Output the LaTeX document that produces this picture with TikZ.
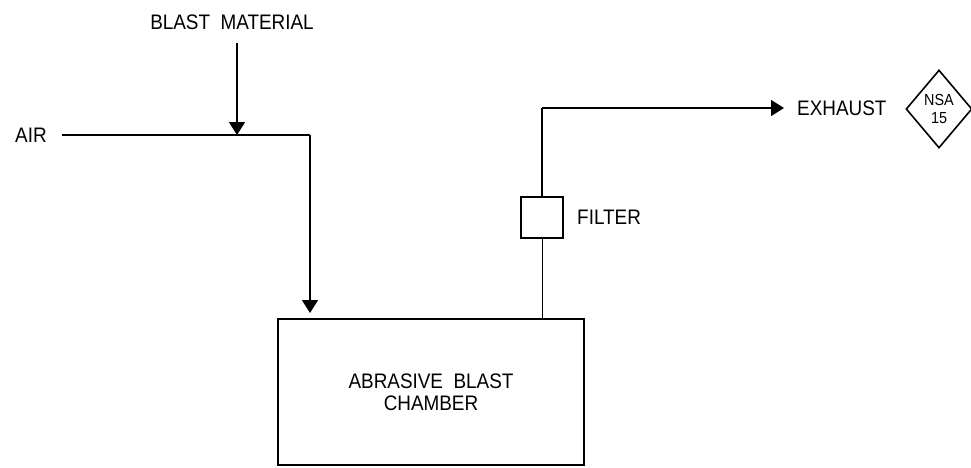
\documentclass[tikz,border=0pt]{standalone}
\usepackage{fontspec}
\setmainfont{Liberation Sans}[FakeStretch=0.9]
\usetikzlibrary{shapes.geometric,arrows.meta}
\begin{document}
\begin{tikzpicture}[x=1pt,y=-1pt,
  lbl/.style={inner sep=0pt,font=\fontsize{21}{24}\selectfont},
  pipe/.style={line width=1.5pt},
  thinpipe/.style={line width=1pt},
  flow/.style={pipe,-{Triangle[length=13pt,width=16pt]}},
  boxunit/.style={draw,line width=1.4pt,inner sep=0pt}]
\useasboundingbox (0,0) rectangle (971,467);
\node[lbl] (bm) at (232,22) {BLAST\ \ MATERIAL};
\node[lbl,anchor=west] (air) at (15,135) {AIR};
\node[boxunit,minimum width=306pt,minimum height=146pt,align=center,font=\fontsize{21}{22}\selectfont] (chamber) at (431,392) {ABRASIVE\ \ BLAST\\CHAMBER};
\node[boxunit,minimum width=42pt,minimum height=41pt] (filter) at (542,217.5) {};
\node[lbl,anchor=west] (flbl) at (577,217) {FILTER};
\node[lbl,anchor=west] (exh) at (797,108) {EXHAUST};
\node[draw,diamond,line width=1.6pt,inner sep=0pt,minimum width=66pt,minimum height=78pt,align=center,font=\fontsize{16}{18}\selectfont] (nsa) at (939,109) {NSA\\15};
\coordinate (bmtop) at (237,43);
\coordinate (junc) at (237,135);
\coordinate (bend) at (310,135);
\coordinate (chin) at (310,313);
\coordinate (fup) at (542,108);
\coordinate (exin) at (784,108);
\draw[flow] (bmtop) -- (junc);
\draw[pipe] (62,135) coordinate (airend) -- (bend);
\draw[flow] (bend) -- (chin);
\draw[thinpipe] (chamber.north -| filter.south) -- (filter.south);
\draw[pipe] (filter.north) -- (fup);
\draw[flow] (fup) -- (exin);
\end{tikzpicture}
\end{document}
